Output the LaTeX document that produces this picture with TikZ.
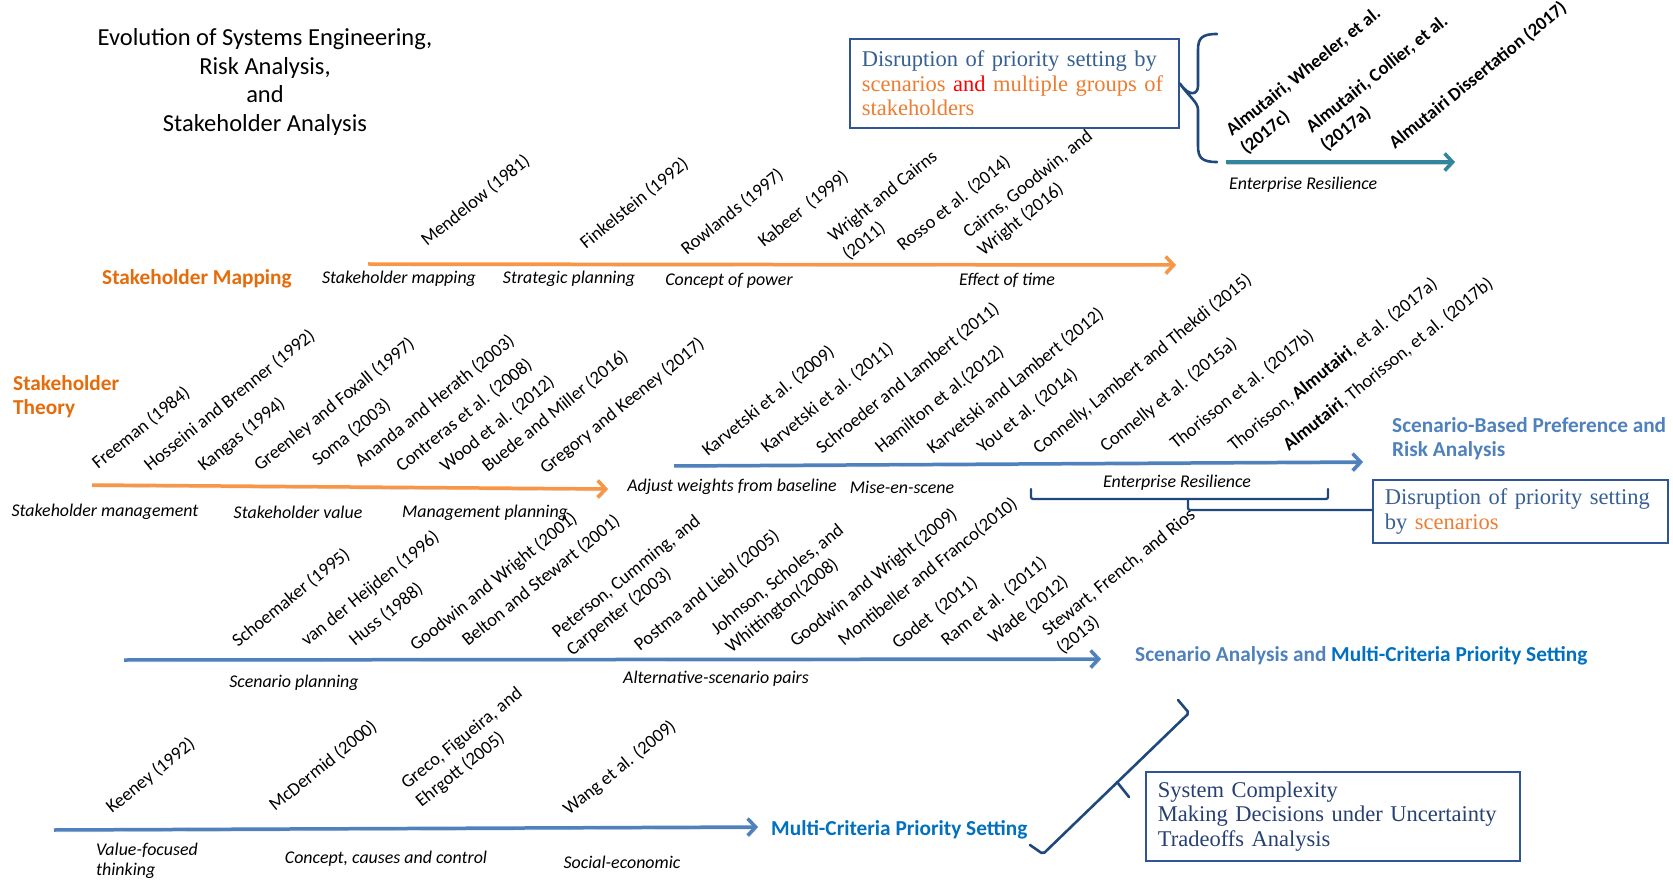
\documentclass[tikz,border=0pt]{standalone}
\usepackage{fontspec}
\setmainfont{Carlito}
\newfontfamily\boxfont{Liberation Serif}
\usetikzlibrary{arrows.meta}

\definecolor{orangeline}{RGB}{247,150,70}
\definecolor{orangetext}{RGB}{228,108,10}
\definecolor{blueline}{RGB}{79,129,189}
\definecolor{bluetext}{RGB}{79,129,189}
\definecolor{mcblue}{RGB}{0,112,192}
\definecolor{tealline}{RGB}{49,133,156}
\definecolor{bracecol}{RGB}{31,73,125}
\definecolor{boxedge}{RGB}{47,85,151}
\definecolor{boxtext}{RGB}{54,96,146}
\definecolor{boxtextdark}{RGB}{38,64,115}
\definecolor{accentorange}{RGB}{237,125,49}
\definecolor{accentred}{RGB}{255,0,0}

% two-line label whose baseline is the first line
\newcommand{\twoln}[2]{\begin{tabular}[t]{@{}l@{}}#1\\#2\end{tabular}}

\begin{document}
\begin{tikzpicture}[x=1pt,y=-1pt,
  ref/.style={rotate=39, anchor=base west, inner sep=0pt,
    font=\fontsize{18.5}{23}\selectfont},
  refb/.style={ref, font=\fontsize{18.5}{23}\selectfont\bfseries},
  note/.style={inner sep=0pt, font=\fontsize{17.9}{20.5}\selectfont\itshape},
  cat/.style={inner sep=0pt, anchor=west, align=left,
    font=\fontsize{21.3}{24}\selectfont\bfseries},
  timeline/.style={line width=3.5pt, -{Straight Barb[length=8pt,width=17pt]},
    preaction={draw=black!18, transform canvas={shift={(1pt,-2pt)}}}},
  callout/.style={draw=boxedge, line width=1.8pt, fill=white, anchor=north west,
    align=left, inner xsep=12pt, inner ysep=0pt,
    font=\boxfont\fontsize{22.5}{24.5}\selectfont},
  brace/.style={draw=bracecol, line width=2.6pt, line join=round, line cap=round}
]
\useasboundingbox[fill=white] (0,0) rectangle (1673,882);

% ---------- title ----------
\node[align=center, font=\fontsize{24.5}{28.5}\selectfont] (title) at (265,82)
  {Evolution of Systems Engineering,\\Risk Analysis,\\and\\Stakeholder Analysis};

% ---------- timelines ----------
\coordinate (sm-s) at (368,264);  \coordinate (sm-e) at (1176,265);
\coordinate (er-s) at (1226,162); \coordinate (er-e) at (1455,162);
\coordinate (st-s) at (92,485);   \coordinate (st-e) at (608,489);
\coordinate (sb-s) at (674,466);  \coordinate (sb-e) at (1363,462);
\coordinate (sa-s) at (124,660);  \coordinate (sa-e) at (1101,659);
\coordinate (mc-s) at (54,830);   \coordinate (mc-e) at (758,827);

\draw[timeline, draw=orangeline] (sm-s) -- (sm-e);
\draw[timeline, draw=tealline] (er-s) -- (er-e);
\draw[timeline, draw=orangeline] (st-s) -- (st-e);
\draw[timeline, draw=blueline] (sb-s) -- (sb-e);
\draw[timeline, draw=blueline] (sa-s) -- (sa-e);
\draw[timeline, draw=blueline] (mc-s) -- (mc-e);

% ---------- stream titles ----------
\node[cat, text=orangetext] (c-sm) at (102,279) {Stakeholder Mapping};
\node[cat, text=orangetext] (c-st) at (13,397) {Stakeholder\\Theory};
\node[cat, text=bluetext] (c-sb) at (1392,439) {Scenario-Based Preference and\\Risk Analysis};
\node[cat] (c-sa) at (1135,656) {\textcolor{bluetext}{Scenario Analysis and} \textcolor{mcblue}{Multi-Criteria Priority Setting}};
\node[cat, text=mcblue] (c-mc) at (771,830) {Multi-Criteria Priority Setting};

% ---------- stakeholder mapping references ----------
\node[ref] (r-sm1) at (427,247) {Mendelow (1981)};
\node[ref] (r-sm2) at (586,250) {Finkelstein (1992)};
\node[ref] (r-sm3) at (687,256) {Rowlands (1997)};
\node[ref] (r-sm4) at (764,248) {Kabeer\ \ (1999)};
\node[ref] (r-sm5) at (834,243) {\twoln{Wright and Cairns}{(2011)}};
\node[ref] (r-sm6) at (903,252) {Rosso et al. (2014)};
\node[ref] (r-sm7) at (969,239) {\twoln{Cairns, Goodwin, and}{Wright (2016)}};

\node[note] (n-sm1) at (399,279) {Stakeholder mapping};
\node[note] (n-sm2) at (569,279) {Strategic planning};
\node[note] (n-sm3) at (729,281) {Concept of power};
\node[note] (n-sm4) at (1007,280) {Effect of time};

% ---------- enterprise resilience ----------
\node[refb] (r-er1) at (1232,137) {\twoln{Almutairi, Wheeler, et al.}{(2017c)}};
\node[refb] (r-er2) at (1312,134) {\twoln{Almutairi, Collier, et al.}{(2017a)}};
\node[refb] (r-er3) at (1395,150) {Almutairi Dissertation (2017)};
\node[note, anchor=west] (n-er) at (1229,185) {Enterprise Resilience};

% ---------- stakeholder theory references ----------
\node[ref] (r-st1) at (98,470) {Freeman (1984)};
\node[ref] (r-st2) at (150,472) {Hosseini and Brenner (1992)};
\node[ref] (r-st3) at (204,472) {Kangas (1994)};
\node[ref] (r-st4) at (260,472) {Greenley and Foxall (1997)};
\node[ref] (r-st5) at (318,467) {Soma (2003)};
\node[ref] (r-st6) at (361,468) {Ananda and Herath (2003)};
\node[ref] (r-st7) at (402,473) {Contreras et al. (2008)};
\node[ref] (r-st8) at (446,473) {Wood et al. (2012)};
\node[ref] (r-st9) at (488,473) {Buede and Miller (2016)};
\node[ref] (r-st10) at (546,475) {Gregory and Keeney (2017)};

\node[note] (n-st1) at (105,512) {Stakeholder management};
\node[note] (n-st2) at (298,512) {Stakeholder value};
\node[note] (n-st3) at (485,513) {Management planning};

% ---------- scenario-based preference references ----------
\node[ref] (r-sb1) at (708,457) {Karvetski et al. (2009)};
\node[ref] (r-sb2) at (767,454) {Karvetski et al. (2011)};
\node[ref] (r-sb3) at (822,455) {Schroeder and Lambert (2011)};
\node[ref] (r-sb4) at (881,454) {Hamilton et al.(2012)};
\node[ref] (r-sb5) at (933,455) {Karvetski and Lambert (2012)};
\node[ref] (r-sb6) at (983,454) {You et al. (2014)};
\node[ref] (r-sb7) at (1039,455) {Connelly, Lambert and Thekdi (2015)};
\node[ref] (r-sb8) at (1106,453) {Connelly et al. (2015a)};
\node[ref] (r-sb9) at (1176,450) {Thorisson et al. (2017b)};
\node[ref] (r-sb10) at (1234,452) {Thorisson, \textbf{Almutairi}, et al. (2017a)};
\node[ref] (r-sb11) at (1289,452) {\textbf{Almutairi}, Thorisson, et al. (2017b)};

\node[note] (n-sb1) at (732,487) {Adjust weights from baseline};
\node[note] (n-sb2) at (902,487) {Mise-en-scene};
\node[note] (n-sb3) at (1177,483) {Enterprise Resilience};

% ---------- scenario analysis references ----------
\node[ref] (r-sa1) at (238,648) {Schoemaker (1995)};
\node[ref] (r-sa2) at (307,647) {van der Heijden (1996)};
\node[ref] (r-sa3) at (355,647) {Huss (1988)};
\node[ref] (r-sa4) at (416,652) {Goodwin and Wright (2001)};
\node[ref] (r-sa5) at (468,647) {Belton and Stewart (2001)};
\node[ref] (r-sa6) at (558,639) {\twoln{Peterson, Cumming, and}{Carpenter (2003)}};
\node[ref] (r-sa7) at (640,652) {Postma and Liebl (2005)};
\node[ref] (r-sa8) at (717,636) {\twoln{Johnson, Scholes, and}{Whittington(2008)}};
\node[ref] (r-sa9) at (796,648) {Goodwin and Wright (2009)};
\node[ref] (r-sa10) at (844,647) {Montibeller and Franco(2010)};
\node[ref] (r-sa11) at (898,650) {Godet\ \ (2011)};
\node[ref] (r-sa12) at (947,647) {Ram et al. (2011)};
\node[ref] (r-sa13) at (994,645) {Wade (2012)};
\node[ref] (r-sa14) at (1048,637) {\twoln{Stewart, French, and Rios}{(2013)}};

\node[note] (n-sa1) at (294,683) {Scenario planning};
\node[note] (n-sa2) at (716,679) {Alternative-scenario pairs};

% ---------- multi-criteria references ----------
\node[ref] (r-mc1) at (112,814) {Keeney (1992)};
\node[ref] (r-mc2) at (275,812) {McDermid (2000)};
\node[ref] (r-mc3) at (407,790) {\twoln{Greco, Figueira, and}{Ehrgott (2005)}};
\node[ref] (r-mc4) at (569,816) {Wang et al. (2009)};

\node[note, anchor=west, align=left] (n-mc1) at (96,861) {Value-focused\\thinking};
\node[note] (n-mc2) at (386,859) {Concept, causes and control};
\node[note] (n-mc3) at (622,862) {Social-economic};

% ---------- callout boxes ----------
\node[callout, text width=305pt, minimum height=89pt, text=boxtext] (box-top) at (849,38)
  {Disruption of priority setting by\\
   \textcolor{accentorange}{scenarios} \textcolor{accentred}{and} \textcolor{accentorange}{multiple groups of}\\
   \textcolor{accentorange}{stakeholders}};
\node[callout, text width=271pt, minimum height=63pt, text=boxtext] (box-mid) at (1372,479)
  {Disruption of priority setting\\by \textcolor{accentorange}{scenarios}};
\node[callout, text width=350pt, minimum height=89pt, text=boxtextdark] (box-bot) at (1145,771)
  {System Complexity\\Making Decisions under Uncertainty\\Tradeoffs Analysis};

% ---------- braces tying the boxes to the streams ----------
% curly brace from the top box to the enterprise-resilience stream
\draw[brace] (1217,34) .. controls (1202,34) and (1198,38) .. (1198,50)
  -- (1198,86) .. controls (1198,94) and (1190,98) .. (box-top.east)
  .. controls (1190,98) and (1198,102) .. (1198,110)
  -- (1198,146) .. controls (1198,158) and (1202,162) .. (1217,162);

% square bracket under the scenario-based stream
\coordinate (bk-l) at (1031,489);
\coordinate (bk-r) at (1328,489);
\coordinate (bk-m) at (1188,499);
\draw[brace, line width=2.3pt, rounded corners=2pt] (bk-l) -- (1031,499) -- (1328,499) -- (bk-r);
\draw[brace, line width=2.3pt, rounded corners=2pt] (bk-m) -- (1188,510) -- (box-mid.west |- 0,510);

% slanted brace pointing to the bottom box
\coordinate (sl-a) at (1030,845);
\coordinate (sl-b) at (1043,854);
\coordinate (sl-c) at (1189,713);
\coordinate (sl-d) at (1178,700);
\coordinate (sl-t) at (1117,782);
\draw[brace, rounded corners=2pt] (sl-a) -- (sl-b) -- (sl-c) -- (sl-d);
\draw[brace] (sl-t) -- (1129,797);

\end{tikzpicture}
\end{document}
